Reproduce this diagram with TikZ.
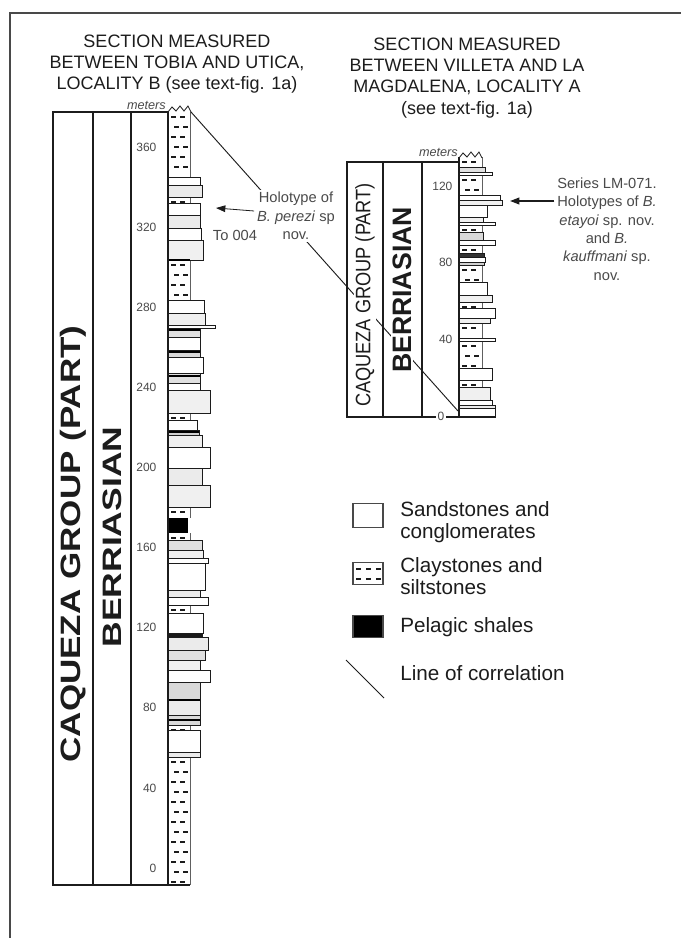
\documentclass[tikz,border=0pt]{standalone}
\usepackage{fontspec}
\setmainfont{Liberation Sans}
\usetikzlibrary{arrows.meta,positioning}
\definecolor{geoInk}{HTML}{1C1C1C}
\definecolor{geoGray}{HTML}{4A4A4A}
\tikzset{
  frameLine/.style={draw=geoInk!80, line width=1.4pt},
  geoFrame/.style={draw=geoInk, line width=1.1pt},
  geoTitle/.style={font=\fontsize{13.5}{15.8}\selectfont, align=center, text=geoInk, inner sep=0pt},
  depthLabel/.style={font=\fontsize{9}{10}\selectfont, text=geoGray, inner sep=1pt},
  metersLabel/.style={font=\itshape\fontsize{9.5}{10}\selectfont, text=geoGray, inner sep=0pt},
  groupText/.style={rotate=90, font=\bfseries\fontsize{21}{23}\selectfont, text=geoInk, inner sep=1pt},
  stageText/.style={rotate=90, font=\bfseries\fontsize{20}{22}\selectfont, text=geoInk, inner sep=1pt},
  noteText/.style={font=\fontsize{11}{13.8}\selectfont, align=center, text=geoGray, fill=white, inner sep=2pt},
  noteArrow/.style={-{Triangle[length=7pt,width=5pt]}, geoInk, line width=0.6pt},
  sandBed/.style={draw=geoInk, line width=0.55pt},
  clayEdge/.style={draw=geoInk!70, line width=0.5pt},
  clayDash/.style={draw=geoInk, line width=1.3pt},
  shaleBed/.style={fill=black},
  darkBand/.style={draw=black, line width=1.4pt},
  corrLine/.style={draw=geoInk, line width=0.7pt},
  legendBox/.style={draw=geoInk!80, line width=0.9pt, minimum width=22.5pt, minimum height=18pt, inner sep=0pt},
  legendText/.style={font=\fontsize{15.5}{16.5}\selectfont, align=left, anchor=west, text=geoInk, inner sep=0pt}
}
\begin{document}
\begin{tikzpicture}[x=0.75pt,y=-0.75pt]
  \useasboundingbox (0,0) rectangle (681,938);
  \draw[frameLine] (681,13) -- (10,13) -- (10,938);

  % titles
  \node[geoTitle] (titleB) at (177,64)
    {SECTION MEASURED\\BETWEEN TOBIA AND UTICA,\\LOCALITY B (see text-fig. 1a)};
  \node[geoTitle] (titleA) at (467,78)
    {SECTION MEASURED\\BETWEEN VILLETA AND LA\\MAGDALENA, LOCALITY A\\(see text-fig. 1a)};

  % locality B column
  \draw[geoFrame] (53,112) rectangle (168,885);
  \draw[geoFrame] (93,112) -- (93,885) (131,112) -- (131,885);
  \foreach \ya/\yb in {112/177,197/203,260/300,413/420,507/518,533/540,605/613,725/730,757/885}{
    \draw[clayEdge] (190,\ya) -- (190,\yb);
    \pgfmathtruncatemacro{\nrows}{(\yb-\ya-7)/10}
    \foreach \n in {0,...,\nrows}{
      \pgfmathsetmacro{\dx}{3*mod(\n,2)}
      \draw[clayDash] ({171+\dx},{\ya+5+10*\n}) -- ++(4.5,0) ({180+\dx},{\ya+5+10*\n}) -- ++(4.5,0);
    }
  }
  \fill[shaleBed] (168,518) rectangle (188,533);
  \foreach \ya/\yb/\xr/\sh in {177/185/200/0,185/197/202/8,203/215/200/0,215/228/200/8,
      228/240/201/0,240/260/203/6,300/313/204/0,313/325/205/6,325/328/215/0,328/337/200/12,
      337/350/200/0,350/357/200/15,357/373/203/0,373/383/200/12,383/390/200/0,390/413/210/6,
      420/430/197/0,430/435/199/18,435/447/202/6,447/468/210/0,468/485/202/8,485/507/210/6,
      540/550/202/12,550/558/203/6,558/563/208/0,563/590/205/0,590/597/200/8,597/605/208/0,
      613/633/203/0,633/637/202/90,637/650/208/8,650/660/205/12,660/670/200/6,670/682/210/0,
      682/700/200/15,700/715/200/8,715/725/200/15,730/752/200/0,752/757/200/8}
    \draw[sandBed, fill=black!\sh] (168,\ya) rectangle (\xr,\yb);
  \foreach \yy/\xr in {260/190,330/200,352/200,376/200,432/199,700/200,720/200}
    \draw[darkBand] (168,\yy) -- (\xr,\yy);
  \draw[geoInk, line width=0.6pt] (168,112) -- (172,107) -- (176,111) -- (180,106)
    -- (184,111) -- (188,106) -- (191,112);
  \draw[geoFrame] (168,112) -- (168,885);
  \draw[geoFrame, line width=1.6pt] (53,885) -- (190,885);
  \node[metersLabel, anchor=south east] (metersB) at (166,110) {meters};
  \foreach \k [evaluate=\k as \m using int(40*\k)] in {0,...,9}
    \node[depthLabel, anchor=east] (depthB\k) at (158,{868-80.1*\k}) {\m};

  % locality A column
  \draw[geoFrame] (347,162) rectangle (459,417);
  \draw[geoFrame] (383,162) -- (383,417) (422,162) -- (422,417);
  \foreach \ya/\yb in {157/167,175/195,225/232,245/253,265/282,302/308,323/338,341/368,380/387}{
    \draw[clayEdge] (482,\ya) -- (482,\yb);
    \pgfmathtruncatemacro{\nrows}{(\yb-\ya-7)/10}
    \foreach \n in {0,...,\nrows}{
      \pgfmathsetmacro{\dx}{3*mod(\n,2)}
      \draw[clayDash] ({462+\dx},{\ya+5+10*\n}) -- ++(4.5,0) ({471+\dx},{\ya+5+10*\n}) -- ++(4.5,0);
    }
  }
  \foreach \ya/\yb/\xr/\sh in {167/172/485/12,172/175/492/0,195/200/500/0,200/205/502/6,
      205/217/487/0,217/222/483/6,222/225/495/0,232/240/483/15,240/245/495/0,253/257/484/80,
      257/262/485/0,262/265/484/18,282/295/487/0,295/302/492/6,308/318/495/0,318/323/490/6,
      338/341/495/0,368/380/492/0,387/400/490/6,400/405/492/0,405/408/495/8,408/417/495/0}
    \draw[sandBed, fill=black!\sh] (459,\ya) rectangle (\xr,\yb);
  \draw[geoInk, line width=0.6pt] (459,158) -- (463,153) -- (467,157) -- (471,152)
    -- (475,157) -- (479,152) -- (482,158);
  \draw[geoFrame] (459,157) -- (459,417);
  \draw[geoFrame, line width=1.4pt] (347,417) -- (495,417);
  \node[metersLabel, anchor=south east] (metersA) at (458,157) {meters};
  \foreach \k [evaluate=\k as \m using int(40*\k)] in {1,2,3}
    \node[depthLabel, anchor=east] (depthA\k) at (454,{416-76.7*\k}) {\m};
  \node[depthLabel, fill=white] (depthA0) at (441,416) {0};

  % correlation
  \coordinate (corrTop) at (191,112);
  \coordinate (corrBase) at (458,411);
  \draw[corrLine] (corrTop) -- (corrBase);

  % unit names
  \node[groupText] (groupB) at (73,544) {\scalebox{1.25}[1]{CAQUEZA GROUP (PART)}};
  \node[stageText] (stageB) at (112,537) {\scalebox{1.33}[1]{BERRIASIAN}};
  \node[rotate=90, font=\fontsize{15.7}{17}\selectfont, text=geoInk, fill=white, inner sep=1pt]
    (groupA) at (365,295) {\scalebox{0.87}[1]{CAQUEZA GROUP (PART)}};
  \node[rotate=90, font=\bfseries\fontsize{20}{22}\selectfont, text=geoInk, fill=white, inner sep=1pt]
    (stageA) at (402,290) {BERRIASIAN};

  % holotype notes
  \node[noteText] (noteB) at (296,216) {Holotype of\\\textit{B. perezi} sp\\nov.};
  \node[noteText, fill=none] (sampleB) at (235,235) {To 004};
  \coordinate (perezi) at (216,208);
  \draw[noteArrow] (noteB.west |- 0,211) -- (perezi);
  \node[noteText] (noteA) at (607,229)
    {Series LM-071.\\Holotypes of \textit{B.}\\\textit{etayoi} sp. nov.\\and \textit{B.}\\\textit{kauffmani} sp.\\nov.};
  \coordinate (etayoi) at (510,201);
  \draw[noteArrow, line width=1.3pt] (noteA.west |- etayoi) -- (etayoi);

  % legend
  \node[legendBox] (legSand) at (368,515.5) {};
  \node[legendText] (legSandText) at (400,522) {Sandstones and\\conglomerates};
  \node[legendBox, minimum height=17pt] (legClay) at (368,573.5) {};
  \foreach \yy in {569,579}
    \foreach \xx in {356,366,376}
      \draw[geoInk, line width=0.9pt] (\xx,\yy) -- ++(5,0);
  \node[legendText] (legClayText) at (400,576) {Claystones and\\siltstones};
  \node[legendBox, fill=black, minimum height=17pt] (legShale) at (368,626.5) {};
  \node[legendText] (legShaleText) at (400,627) {Pelagic shales};
  \coordinate (legLineA) at (346,660);
  \coordinate (legLineB) at (384,698);
  \draw[corrLine] (legLineA) -- (legLineB);
  \node[legendText] (legLineText) at (400,673) {Line of correlation};
\end{tikzpicture}
\end{document}
